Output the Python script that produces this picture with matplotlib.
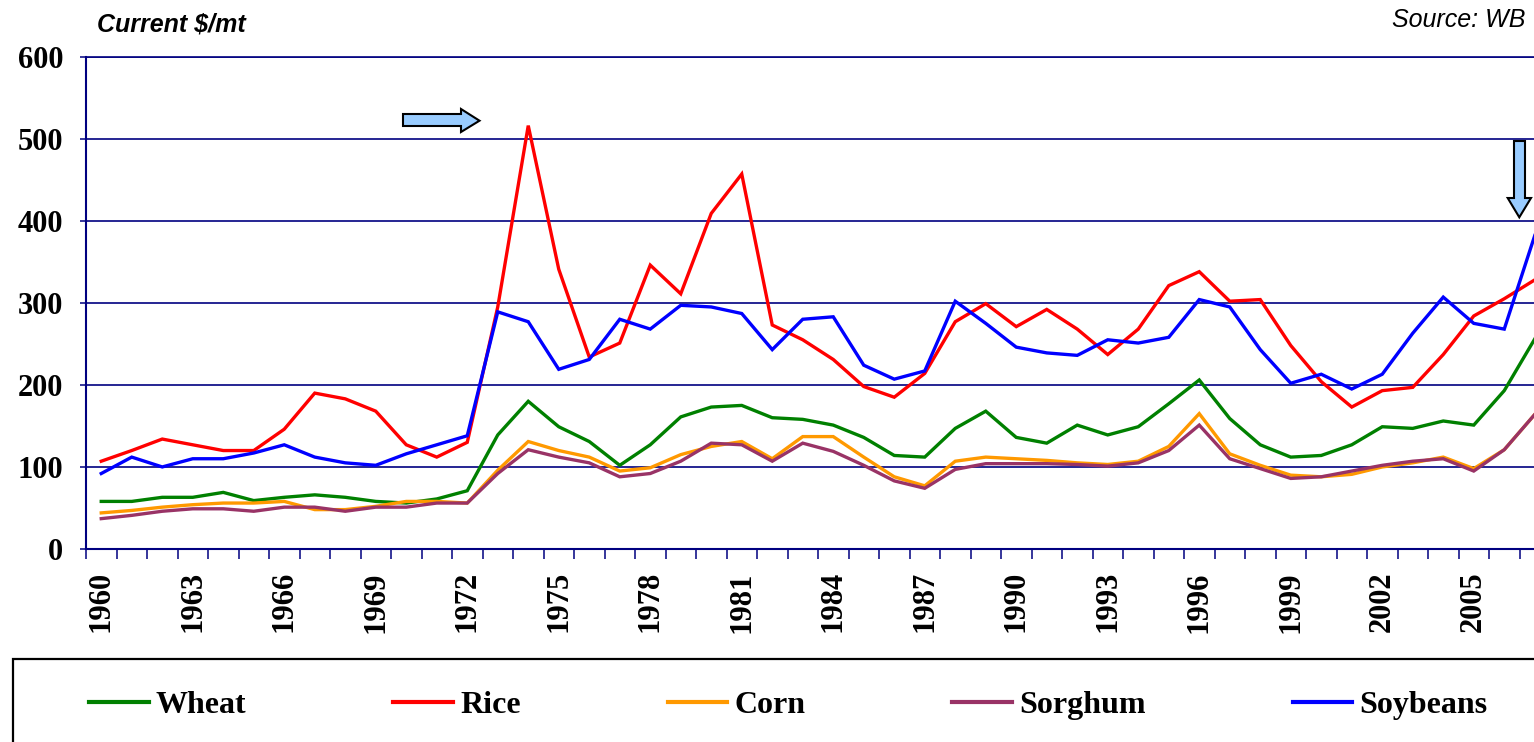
import matplotlib
matplotlib.use("Agg")
import matplotlib.pyplot as plt
from matplotlib.patches import Polygon, Rectangle
from matplotlib.ticker import FixedLocator
import numpy as np

years = list(range(1960, 2008))
wheat = [58, 58, 63, 63, 69, 59, 63, 66, 63, 58,
         56, 61, 71, 139, 180, 149, 131, 102, 127, 161,
         173, 175, 160, 158, 151, 136, 114, 112, 147, 168,
         136, 129, 151, 139, 149, 177, 206, 159, 127, 112,
         114, 127, 149, 147, 156, 151, 193, 256]
rice = [107, 120, 134, 127, 120, 120, 146, 190, 183, 168,
        127, 112, 130, 295, 516, 341, 234, 251, 346, 311,
        409, 457, 273, 255, 231, 198, 185, 214, 277, 299,
        271, 292, 268, 237, 268, 321, 338, 302, 304, 248,
        204, 173, 193, 197, 237, 284, 305, 328]
corn = [44, 47, 51, 54, 56, 56, 58, 48, 48, 52,
        58, 58, 56, 96, 131, 120, 112, 95, 99, 115,
        125, 131, 110, 137, 137, 112, 88, 77, 107, 112,
        110, 108, 105, 103, 107, 125, 165, 116, 102, 90,
        88, 91, 100, 105, 112, 98, 121, 164]
sorghum = [37, 41, 46, 49, 49, 46, 51, 51, 46, 51,
           51, 56, 56, 92, 121, 112, 105, 88, 92, 107,
           129, 127, 107, 129, 119, 102, 83, 74, 97, 104,
           104, 104, 103, 101, 105, 120, 151, 110, 98, 86,
           88, 95, 102, 107, 110, 95, 121, 164]
soybeans = [92, 112, 100, 110, 110, 117, 127, 112, 105, 102,
            116, 127, 138, 289, 277, 219, 231, 280, 268, 297,
            295, 287, 243, 280, 283, 224, 207, 217, 302, 275,
            246, 239, 236, 255, 251, 258, 304, 295, 243, 202,
            213, 195, 213, 263, 307, 275, 268, 382]

series_names = ["Wheat", "Rice", "Corn", "Sorghum", "Soybeans"]
series_values = [wheat, rice, corn, sorghum, soybeans]
series_colors = ["#008000", "#FF0000", "#FF9900", "#993366", "#0000FF"]
yticks = [0, 100, 200, 300, 400, 500, 600]
label_years = years[::3]

W, H = 1534, 742
fig = plt.figure(figsize=(W / 100, H / 100), dpi=100)

def fx(px):
    return px / W

def fy(py):
    return 1 - py / H

navy = "#000080"
ax = fig.add_axes([fx(86), fy(549), 1464 / W, (549 - 56.7) / H])
x = np.arange(len(years))
lines = []
for name, vals, col in zip(series_names, series_values, series_colors):
    ln, = ax.plot(x, vals, color=col, lw=2.4, label=name, solid_joinstyle="miter")
    lines.append(ln)

ax.set_xlim(-0.5, len(years) - 0.5)
ax.set_ylim(0, 600)
ax.set_yticks(yticks)
ax.set_yticklabels([str(v) for v in yticks])
ax.grid(axis="y", color=navy, lw=1.2)
ax.set_axisbelow(True)

lab_idx = [years.index(y) for y in label_years]
ax.xaxis.set_major_locator(FixedLocator(lab_idx))
ax.set_xticklabels([str(y) for y in label_years], rotation=90)
ax.xaxis.set_minor_locator(FixedLocator(np.arange(-0.5, len(years), 1.0)))
ax.tick_params(axis="x", which="major", length=0, pad=16)
ax.tick_params(axis="x", which="minor", length=7.2, width=1.1, color=navy, direction="out")
ax.tick_params(axis="y", length=4.3, width=1.1, color=navy, direction="out", pad=12)

for lab in ax.get_xticklabels() + ax.get_yticklabels():
    lab.set_fontfamily("Liberation Serif")
    lab.set_fontweight("bold")
    lab.set_fontsize(22)
    lab.set_color("black")

for side in ["left", "bottom", "top"]:
    ax.spines[side].set_color(navy)
    ax.spines[side].set_linewidth(1.5)
ax.spines["right"].set_visible(False)
ax.spines["top"].set_linewidth(1.2)

# Titles
fig.text(fx(97), fy(24), "Current $/mt", fontfamily="Liberation Sans",
         fontweight="bold", fontstyle="italic", fontsize=18, va="center", ha="left")
fig.text(fx(1392), fy(20), "Source: WB", fontfamily="Liberation Sans",
         fontstyle="italic", fontsize=18, va="center", ha="left")

# Arrows
arrow_face = "#99CCFF"
right_arrow = [(403, 114), (461, 114), (461, 109), (479.5, 120.7), (461, 132),
               (461, 126), (403, 126)]
down_arrow = [(1514, 141), (1525, 141), (1525, 198), (1531, 198), (1519.3, 217.3),
              (1507.7, 198), (1514, 198)]
for pts in (right_arrow, down_arrow):
    poly = Polygon([(fx(a), fy(b)) for a, b in pts], closed=True,
                   transform=fig.transFigure, facecolor=arrow_face,
                   edgecolor="black", lw=1.5, zorder=10)
    fig.patches.append(poly)

# Legend frame
frame = Rectangle((fx(12.5), fy(760)), fx(1600), (760 - 659) / H,
                  transform=fig.transFigure, facecolor="white",
                  edgecolor="black", lw=1.6)
fig.patches.append(frame)

leg = fig.legend(handles=lines, labels=series_names, ncol=5,
                 loc="center left", bbox_to_anchor=(fx(89), fy(705)),
                 frameon=False, borderpad=0, borderaxespad=0,
                 handlelength=1.87, handletextpad=0.22, columnspacing=4.6,
                 prop={"family": "Liberation Serif", "weight": "bold", "size": 23})
for h in leg.get_lines():
    h.set_linewidth(3)

fig.savefig("out.png", dpi=100)
